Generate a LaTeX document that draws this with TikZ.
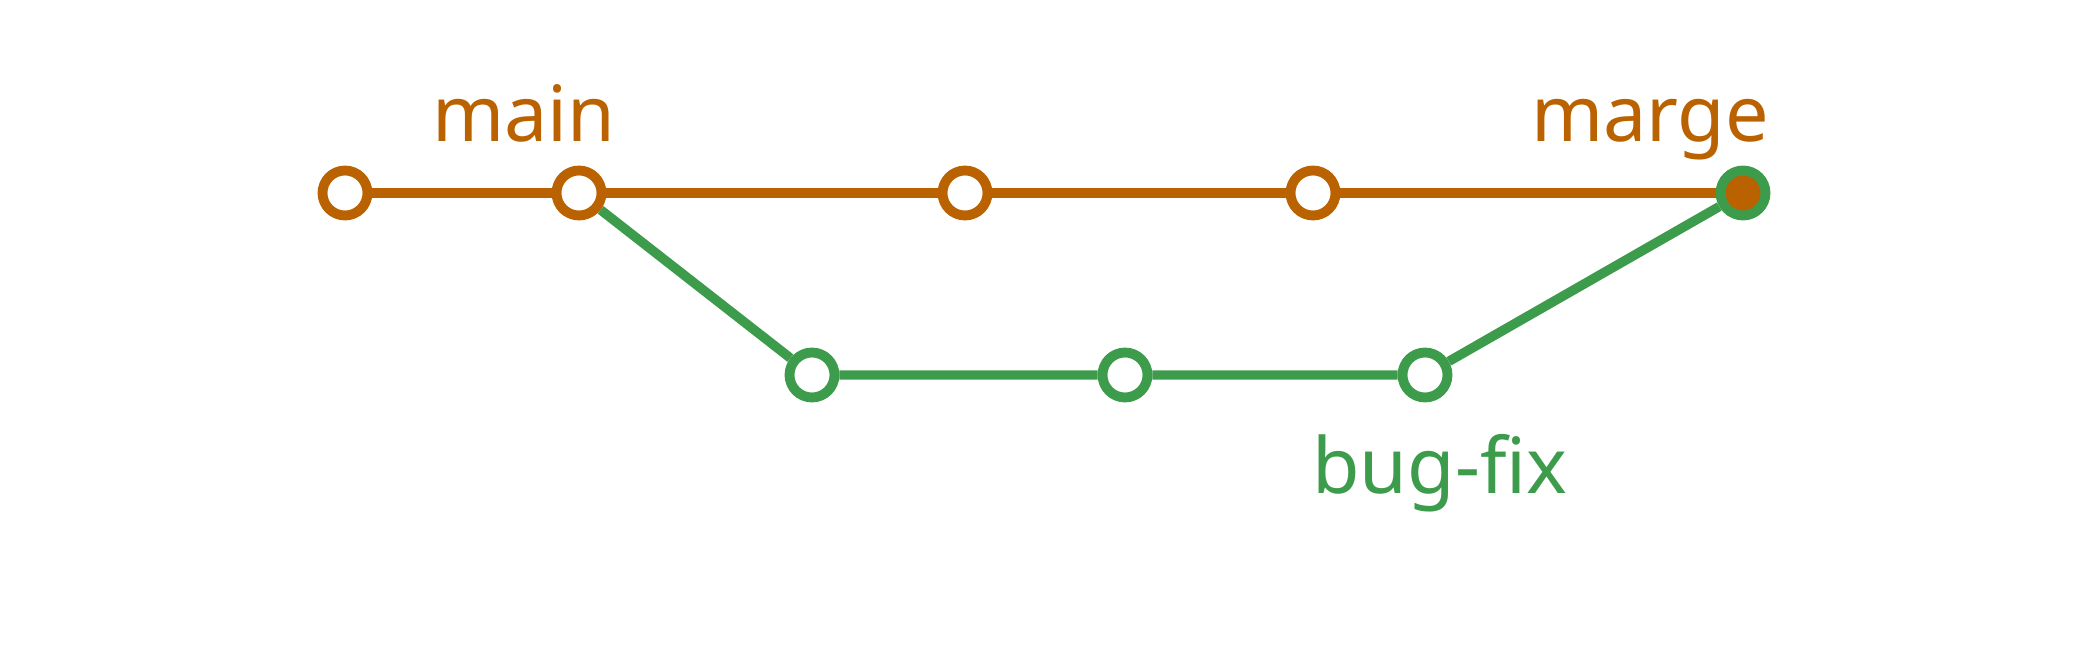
\documentclass[tikz,border=0pt]{standalone}
\usepackage{fontspec}
\setmainfont{Noto Sans}[Ligatures=NoCommon]
\definecolor{mainc}{RGB}{186,98,0}
\definecolor{fixc}{RGB}{61,155,76}
\tikzset{
  commit/.style={circle,line width=5.6pt,minimum size=0.9cm,inner sep=0pt,fill=white},
  branch/.style={font=\fontsize{44}{44}\selectfont,anchor=base}
}
\begin{document}
\begin{tikzpicture}[x=0.02cm,y=-0.02cm]
\useasboundingbox (0,0) rectangle (2089,651);

\node[commit,draw=mainc] (m1) at (345,193) {};
\node[commit,draw=mainc] (m2) at (579,193) {};
\node[commit,draw=mainc] (m3) at (965,193) {};
\node[commit,draw=mainc] (m4) at (1313,193) {};
\node[commit,draw=fixc,fill=mainc] (mg) at (1743,193) {};

\node[commit,draw=fixc] (f1) at (812,375) {};
\node[commit,draw=fixc] (f2) at (1125,375) {};
\node[commit,draw=fixc] (f3) at (1425,375) {};

\draw[mainc,line width=5.8pt] (m1) -- (m2) -- (m3) -- (m4) -- (mg);
\draw[fixc,line width=5.4pt] (m2) -- (f1) -- (f2) -- (f3) -- (mg);

\node[branch,text=mainc] (lmain) at (524,142) {main};
\node[branch,text=mainc] (lmarge) at (1650,142) {marge};
\node[branch,text=fixc] (lfix) at (1440,494) {bug-fix};
\end{tikzpicture}
\end{document}
